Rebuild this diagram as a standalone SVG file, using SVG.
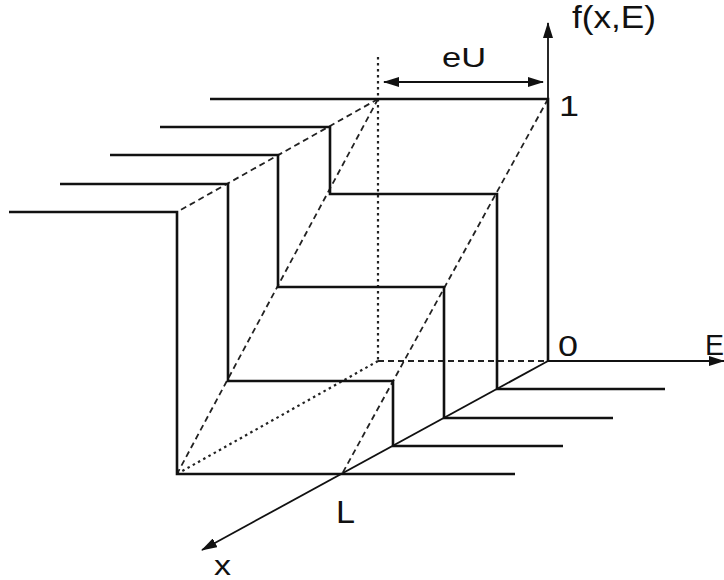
<svg xmlns="http://www.w3.org/2000/svg" width="724" height="580" viewBox="0 0 724 580">
<style>
.prof{fill:none;stroke:#111;stroke-width:2.6;stroke-linejoin:miter}
.axis{fill:none;stroke:#111;stroke-width:1.8}
.dash{fill:none;stroke:#222;stroke-width:1.8;stroke-dasharray:6 4}
.dot{fill:none;stroke:#222;stroke-width:2.2;stroke-dasharray:2.5 3.5}
text{font-family:"Liberation Sans",Arial,sans-serif;fill:#111}
</style>
<defs>
<marker id="arr" viewBox="0 0 16 10" refX="15" refY="5" markerWidth="16" markerHeight="10" markerUnits="userSpaceOnUse" orient="auto-start-reverse">
<path d="M0,0 L16,5 L0,10 Z" fill="#111"/>
</marker>
</defs>
<rect width="724" height="580" fill="#fff"/>
<g id="guides">
<line class="dot" x1="378" y1="57" x2="378" y2="361"/>
<line class="dot" x1="378" y1="361" x2="177" y2="474"/>
<line class="dash" x1="378" y1="361" x2="548" y2="361"/>
<line class="dash" x1="378" y1="99" x2="177" y2="212"/>
<line class="dash" x1="378" y1="99" x2="177" y2="474"/>
<line class="dash" x1="548" y1="99" x2="342" y2="474"/>
</g>
<g id="profile-0"><path class="prof" d="M210,99 H548 V361"/></g>
<g id="profile-1"><path class="prof" d="M160,127 H330 V194 H497 V389 H665"/></g>
<g id="profile-2"><path class="prof" d="M110,155 H278 V287 H444 V418 H613"/></g>
<g id="profile-3"><path class="prof" d="M60,184 H228 V381 H393 V446 H563"/></g>
<g id="profile-4"><path class="prof" d="M9,212 H177 V474 H515"/></g>
<g id="connectors">
<line class="axis" x1="548" y1="361" x2="548" y2="23" marker-end="url(#arr)"/>
<line class="axis" x1="548" y1="361" x2="724" y2="361" marker-end="url(#arr)"/>
<line class="axis" x1="548" y1="361" x2="202" y2="550" marker-end="url(#arr)"/>
<line class="axis" x1="384" y1="82" x2="543" y2="82" marker-start="url(#arr)" marker-end="url(#arr)"/>
</g>
<g id="labels">
<text x="572" y="28" font-size="31" textLength="84" lengthAdjust="spacingAndGlyphs">f(x,E)</text>
<text x="442" y="67" font-size="28" textLength="44" lengthAdjust="spacingAndGlyphs">eU</text>
<text x="559" y="116" font-size="29" textLength="20" lengthAdjust="spacingAndGlyphs">1</text>
<text x="558" y="356" font-size="29" textLength="20" lengthAdjust="spacingAndGlyphs">0</text>
<text x="705" y="355" font-size="30" textLength="19" lengthAdjust="spacingAndGlyphs">E</text>
<text x="336" y="523" font-size="32" textLength="19" lengthAdjust="spacingAndGlyphs">L</text>
<text x="214" y="575" font-size="28" textLength="17" lengthAdjust="spacingAndGlyphs">x</text>
</g>
</svg>
